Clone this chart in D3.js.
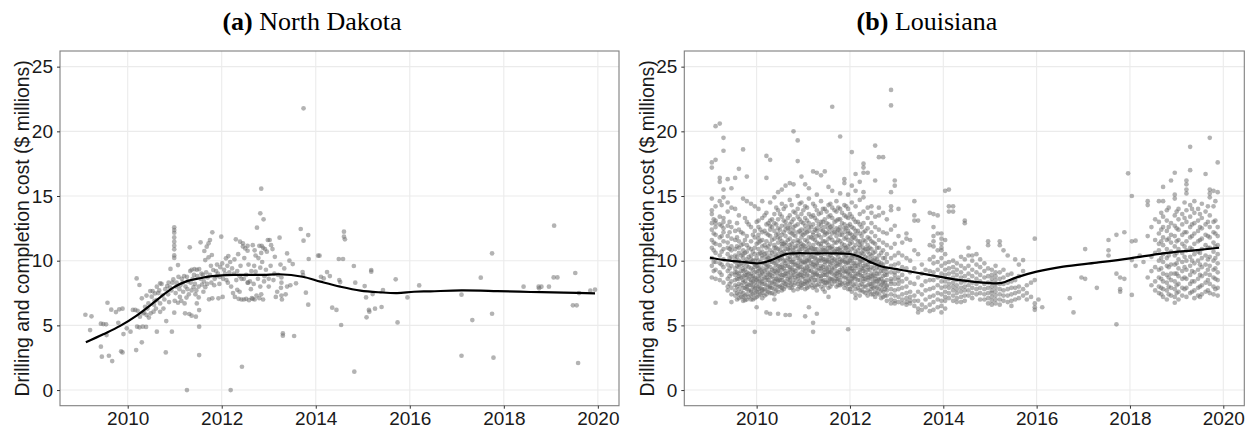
<!DOCTYPE html>
<html>
<head>
<meta charset="utf-8">
<script src="https://cdn.jsdelivr.net/npm/d3@7"></script>
<style>
  html, body { margin: 0; padding: 0; background: #fff; }
  svg { display: block; }
</style>
</head>
<body>
<svg id="chart" width="1251" height="433"></svg>
<script>
// ---------------- DATA ----------------
const panelTitles = [["(a)", " North Dakota"], ["(b)", " Louisiana"]];
const yAxisTitle = "Drilling and completion cost ($ millions)";
const yTicks = [0, 5, 10, 15, 20, 25];
const xTicks = [2010, 2012, 2014, 2016, 2018, 2020];

// North Dakota wells: [date (year), cost ($M)]
const ndWells = [
[2009.10,5.82],[2009.23,5.70],[2009.20,4.64],[2009.43,5.13],[2009.48,5.10],[2009.54,5.08],[2009.57,6.75],
[2009.65,6.21],[2009.75,6.03],[2009.82,6.24],[2009.89,6.29],[2009.43,3.35],[2009.45,2.58],[2009.60,2.65],
[2009.67,2.24],[2009.86,2.99],[2009.89,2.91],[2009.55,4.25],[2009.80,5.20],[2009.91,4.33],[2009.98,4.77],
[2010.06,4.51],[2010.11,6.19],[2010.16,6.19],[2010.21,6.13],[2010.19,8.63],[2010.25,8.12],[2010.18,3.09],
[2010.30,3.69],[2010.20,4.90],[2010.25,4.85],[2010.32,4.90],[2010.39,4.88],[2010.26,5.67],[2010.33,5.93],
[2010.40,5.80],[2010.49,5.93],[2010.55,6.06],[2010.30,7.09],[2010.37,6.44],[2010.44,6.70],[2010.51,7.22],
[2010.58,7.47],[2010.62,7.99],[2010.48,7.65],[2010.53,7.65],[2010.62,4.51],[2010.69,8.25],[2010.72,8.20],
[2010.60,6.30],[2010.69,6.05],[2010.76,6.30],[2010.69,6.70],[2010.62,6.95],[2010.82,5.33],[2010.81,2.91],
[2010.94,4.51],[2010.84,8.04],[2010.90,7.94],[2010.95,8.30],[2010.91,9.36],
[2010.99,12.58],[2010.99,12.37],[2010.99,12.16],[2010.99,11.80],[2010.99,11.47],[2010.99,11.16],[2010.99,10.88],
[2010.99,10.41],[2010.99,10.21],[2011.07,9.66],[2010.97,8.55],[2011.04,8.30],[2011.08,8.75],[2011.15,8.60],
[2011.20,8.80],[2011.26,8.75],[2010.99,5.98],[2011.00,6.90],[2011.07,6.75],[2011.14,6.90],[2011.21,6.70],
[2011.25,7.15],[2011.22,5.93],[2011.31,5.88],[2011.36,5.75],[2011.45,5.67],[2011.26,0.00],[2011.32,11.03],
[2011.33,9.20],[2011.36,9.30],[2011.42,9.35],[2011.47,9.30],[2011.52,9.35],[2011.40,7.95],[2011.46,7.70],
[2011.51,8.00],[2011.58,8.15],[2011.65,7.95],[2011.36,7.70],[2011.52,4.90],[2011.52,2.70],[2011.47,6.70],
[2011.52,6.18],[2011.51,7.16],[2011.55,11.42],[2011.63,10.75],[2011.68,11.08],[2011.72,11.34],[2011.75,11.60],
[2011.80,12.19],[2011.65,10.05],[2011.72,10.26],[2011.79,10.44],[2011.82,9.28],[2011.73,7.01],[2011.80,7.09],
[2011.93,7.09],[2011.99,11.86],[2011.89,8.80],[2011.96,8.75],[2012.03,8.60],[2012.10,8.50],[2012.01,9.79],
[2012.09,10.18],[2012.14,10.36],[2012.19,0.00],[2012.30,11.65],[2012.39,11.47],[2012.45,11.34],[2012.50,10.95],
[2012.55,10.77],[2012.43,1.80],[2012.20,8.00],[2012.24,7.50],[2012.28,7.20],[2012.36,7.05],[2012.42,7.00],
[2010.35,6.00],[2010.42,6.30],[2010.45,5.60],[2010.56,6.60],[2010.65,7.50],[2010.74,7.30],[2010.78,7.00],
[2010.86,7.40],[2010.88,6.80],[2010.93,7.70],[2011.02,7.50],[2011.10,7.80],[2011.12,8.10],[2011.17,8.30],
[2011.23,8.00],[2011.28,8.40],[2011.30,7.40],[2011.38,8.60],[2011.43,8.20],[2011.48,8.80],[2011.55,8.60],
[2011.60,8.90],[2011.62,8.40],[2011.67,9.10],[2011.70,8.70],[2011.75,8.90],[2011.78,8.30],[2011.85,8.60],
[2011.88,9.20],[2011.92,9.00],[2011.97,9.50],[2012.05,9.30],[2012.12,9.60],[2012.16,9.10],[2012.22,9.40],
[2012.26,9.00],[2012.33,9.20],[2012.38,8.80],[2012.47,8.60],[2012.52,8.90],[2012.56,8.30],[2012.33,7.75],
[2012.38,7.60],[2012.47,7.00],[2012.52,7.05],[2012.58,6.95],[2012.62,7.80],[2012.64,7.10],[2012.68,8.20],
[2012.70,10.80],[2012.72,10.40],[2012.78,10.20],[2012.84,10.60],[2012.88,11.00],[2012.92,10.90],[2012.96,10.70],
[2013.02,11.60],[2013.05,11.20],[2013.08,10.90],[2013.13,10.30],
[2013.74,21.78],[2012.84,15.57],[2012.82,13.66],[2012.89,13.20],[2012.75,12.55],[2012.45,11.10],[2012.55,11.15],
[2012.66,11.20],[2012.80,11.15],[2012.85,11.15],[2012.98,11.60],[2013.23,11.78],[2013.39,10.56],[2013.44,10.00],
[2013.51,9.74],[2013.68,12.45],[2013.74,11.55],[2013.84,11.98],[2013.85,10.13],[2014.05,10.39],[2014.08,10.39],
[2014.49,10.13],[2014.58,10.13],[2014.60,12.24],[2014.60,11.86],[2014.62,11.65],[2013.25,9.70],[2012.82,9.46],
[2012.72,9.15],[2012.42,8.60],[2012.60,8.40],[2012.55,8.30],[2012.91,8.80],[2013.00,8.60],[2013.10,8.50],
[2013.20,8.90],[2013.27,8.70],[2013.27,8.30],[2013.26,7.90],[2013.72,9.12],[2013.73,8.89],[2013.58,8.25],
[2013.79,7.53],[2013.84,6.60],[2014.11,8.76],[2014.17,8.63],[2014.24,9.12],[2014.30,8.81],[2014.50,8.50],
[2014.52,8.35],[2014.81,9.59],[2014.84,8.30],[2015.04,8.04],[2015.07,7.16],[2015.21,7.42],[2015.18,9.28],
[2015.18,9.15],[2015.43,7.73],[2015.70,8.56],[2015.95,7.16],[2016.20,8.09],[2015.74,5.23],[2014.54,5.03],
[2014.35,6.37],[2014.44,6.19],[2015.08,5.62],[2015.14,6.06],[2015.13,6.19],[2015.26,6.29],[2015.40,6.42],
[2014.82,1.42],[2013.30,4.38],[2013.30,4.20],[2013.54,4.18],[2012.80,7.10],[2012.84,7.40],[2012.88,7.00],
[2012.74,7.30],[2012.70,7.00],[2012.66,7.05],[2013.27,7.30],[2013.28,7.00],[2012.82,8.00],[2012.90,8.40],
[2013.00,8.00],[2013.15,7.20],[2013.46,8.10],[2013.39,8.00],
[2010.40,7.30],[2010.57,6.90],[2010.67,7.70],[2010.80,7.80],[2010.87,8.30],[2011.03,8.00],[2011.11,7.20],
[2011.18,7.60],[2011.27,7.80],[2011.34,8.30],[2011.41,8.90],[2011.44,7.40],[2011.57,9.00],[2011.61,7.60],
[2011.69,8.20],[2011.77,9.60],[2011.84,8.10],[2011.90,9.70],[2011.95,8.20],[2012.02,7.20],[2012.07,9.00],
[2012.13,8.30],[2012.18,9.90],[2012.27,10.10],[2012.31,8.50],[2012.35,10.50],[2012.40,9.60],[2012.48,10.20],
[2012.57,9.70],[2012.63,9.20],[2012.69,9.60],[2012.77,8.60],[2012.86,9.90],[2012.94,9.30],[2013.04,9.60],
[2013.12,9.00],[2013.18,7.60],[2013.33,9.40],[2013.36,7.40],
[2017.75,10.57],[2017.51,8.69],[2017.10,7.37],[2017.33,5.41],[2017.75,5.90],[2017.10,2.65],[2017.78,2.50],
[2018.42,7.99],[2018.74,7.99],[2018.80,7.99],[2018.96,7.99],[2018.75,7.86],[2019.06,8.71],[2019.14,8.71],
[2019.52,9.05],[2019.60,7.50],[2019.47,6.55],[2019.55,6.55],[2019.58,2.09],[2019.84,7.68],[2019.94,7.76],
[2019.07,12.71]
];

// Louisiana wells grouped by month: [date (year), [costs ($M)]]
const laWells = [
[2009.04,[17.6,17.2,13.9,13.6,12.9,12.4,11.6,11.0,10.2,9.6,8.7,14.8]],
[2009.12,[17.8,20.4,14.2,13.1,12.6,12.0,11.3,10.6,9.9,9.3,8.6,6.75,12.9]],
[2009.21,[20.6,16.1,14.6,13.4,12.8,11.8,11.2,10.4,9.8,9.1,8.5,16.4]],
[2009.29,[19.5,18.5,15.5,14.9,13.3,12.5,11.5,10.9,10.1,9.5,8.3,13.0,12.2]],
[2009.38,[16.3,14.5,13.8,12.7,11.4,11.0,10.5,9.7,9.2,8.6,8.0,7.7,11.9]],
[2009.46,[15.6,14.1,12.6,11.7,11.1,10.3,9.6,9.0,8.4,7.9,7.4,6.8,10.8]],
[2009.54,[16.4,14.0,12.3,11.6,10.9,10.4,9.9,9.4,8.9,8.5,8.1,7.7,7.3,10.1,9.1]],
[2009.62,[17.1,13.5,12.4,11.5,11.0,10.6,10.0,9.5,9.0,8.6,8.2,7.8,7.4,7.1,9.7,8.8]],
[2009.71,[18.6,14.8,12.1,11.3,10.8,10.2,9.7,9.2,8.8,8.3,7.9,7.5,7.2,6.9,10.5,9.4,8.5]],
[2009.79,[16.5,14.6,13.0,11.9,11.2,10.7,10.1,9.6,9.1,8.7,8.2,7.8,7.4,7.0,9.9,8.9,8.0]],
[2009.88,[14.4,12.6,11.5,10.9,10.4,9.9,9.4,9.0,8.5,8.1,7.7,7.3,7.0,10.1,8.8,8.3,7.6]],
[2009.96,[14.2,12.3,11.8,11.0,10.5,10.0,9.5,9.1,8.7,8.3,7.9,7.5,7.1,9.7,8.6,7.8,4.5]],
[2010.04,[14.0,13.1,12.6,12.0,11.4,10.9,10.5,10.0,9.6,9.2,8.8,8.4,8.0,7.6,7.3,11.7,9.4,8.6,7.8]],
[2010.12,[14.6,13.3,12.2,11.6,11.1,10.7,10.2,9.8,9.4,9.0,8.6,8.2,7.8,7.5,7.1,10.4,9.1,8.4,7.7]],
[2010.21,[18.1,16.4,13.7,12.8,12.1,11.5,11.0,10.6,10.1,9.7,9.3,8.9,8.5,8.1,7.7,7.4,10.3,9.5,8.7,6.0]],
[2010.29,[17.8,14.5,13.1,12.4,11.9,11.3,10.8,10.4,9.9,9.5,9.1,8.7,8.3,7.9,7.5,12.7,10.1,8.9,8.0,5.9]],
[2010.38,[14.9,13.6,12.9,12.3,11.7,11.2,10.7,10.3,9.8,9.4,9.0,8.6,8.2,7.8,7.4,11.0,10.0,9.2,8.4,7.0]],
[2010.46,[15.3,13.9,13.2,12.5,11.8,11.4,10.9,10.5,10.0,9.6,9.2,8.8,8.4,8.0,7.6,12.1,10.2,9.3,8.5,5.9]],
[2010.54,[15.5,14.4,13.4,12.7,12.0,11.5,11.1,10.6,10.2,9.7,9.3,8.9,8.5,8.1,7.7,11.3,10.4,9.5,8.7,7.9]],
[2010.62,[15.8,14.2,13.0,12.4,11.9,11.4,10.9,10.5,10.0,9.6,9.2,8.8,8.4,8.0,12.7,11.2,9.8,9.0,8.2,5.8]],
[2010.71,[16.0,14.7,13.5,12.8,12.2,11.7,11.2,10.8,10.3,9.9,9.5,9.1,8.7,8.3,7.9,12.5,11.0,10.1,9.3,8.5,5.8]],
[2010.79,[20.0,15.9,13.8,13.2,12.6,12.0,11.5,11.0,10.6,10.1,9.7,9.3,8.9,8.5,8.1,7.7,12.3,10.8,9.9,9.1]],
[2010.88,[19.3,17.7,15.0,14.0,13.4,12.8,12.2,11.6,11.1,10.7,10.2,9.8,9.4,9.0,8.6,8.2,7.8,11.4,10.4,9.6,8.8]],
[2010.96,[16.5,14.5,13.6,13.0,12.4,11.8,11.3,10.9,10.4,10.0,9.5,9.1,8.7,8.3,7.9,12.1,11.1,9.8,8.9,8.1]],
[2011.04,[15.9,14.2,13.3,12.7,12.1,11.6,11.1,10.6,10.2,9.8,9.4,9.0,8.6,8.2,7.8,12.4,10.9,9.9,9.2,8.4,5.7]],
[2011.12,[15.6,14.8,13.6,12.9,12.3,11.8,11.3,10.8,10.4,10.0,9.6,9.2,8.8,8.4,8.0,12.6,11.0,10.1,9.3,8.5,6.4]],
[2011.21,[16.9,14.4,13.5,12.8,12.2,11.7,11.2,10.7,10.3,9.9,9.5,9.1,8.7,8.3,7.9,12.0,10.9,9.7,8.9,5.2,4.5]],
[2011.29,[16.8,15.1,13.9,13.1,12.5,11.9,11.4,10.9,10.5,10.1,9.7,9.3,8.9,8.5,8.1,7.7,12.3,10.6,9.8,9.0,5.9]],
[2011.38,[16.6,14.6,13.7,13.0,12.4,11.8,11.3,10.8,10.4,10.0,9.6,9.2,8.8,8.4,8.0,12.7,11.1,10.2,9.4,8.6]],
[2011.46,[16.9,14.0,13.2,12.6,12.0,11.5,11.0,10.5,10.1,9.7,9.3,8.9,8.5,8.1,7.6,12.2,10.8,9.9,9.1,8.3]],
[2011.54,[15.7,14.3,13.4,12.8,12.2,11.7,11.2,10.7,10.3,9.9,9.5,9.1,8.7,8.3,7.9,12.5,11.0,10.0,9.2,8.4,7.2]],
[2011.62,[21.9,15.4,14.1,13.3,12.7,12.1,11.6,11.1,10.6,10.2,9.8,9.4,9.0,8.6,8.2,12.4,10.9,10.0,9.3,8.5]],
[2011.71,[14.6,13.8,13.1,12.5,11.9,11.4,10.9,10.5,10.0,9.6,9.2,8.8,8.4,8.0,12.2,10.7,9.8,9.0,8.6]],
[2011.79,[19.6,15.2,14.0,13.2,12.6,12.0,11.5,11.0,10.6,10.1,9.7,9.3,8.9,8.5,8.1,12.3,10.8,9.9,9.1,8.3]],
[2011.88,[16.3,16.0,14.3,13.5,12.8,12.2,11.7,11.2,10.7,10.3,9.9,9.5,9.1,8.7,8.3,7.9,12.5,11.0,10.0,9.2]],
[2011.96,[15.1,14.0,13.3,12.7,12.1,11.6,11.1,10.6,10.2,9.8,9.4,9.0,8.6,8.2,7.8,12.3,10.8,9.9,9.1,8.4,4.7]],
[2012.04,[18.4,15.8,14.5,13.4,12.6,12.0,11.4,10.9,10.4,10.0,9.6,9.2,8.8,8.4,8.0,7.6,11.7,10.2,9.4,8.6]],
[2012.12,[16.7,15.4,14.2,13.0,12.3,11.7,11.2,10.7,10.2,9.8,9.4,9.0,8.6,8.2,7.8,7.4,12.0,10.5,9.6,8.8,7.1]],
[2012.21,[16.1,14.7,13.6,12.8,12.1,11.5,11.0,10.5,10.1,9.7,9.3,8.9,8.5,8.1,7.7,7.3,11.2,9.9,9.1]],
[2012.29,[17.5,17.2,16.8,15.3,14.9,13.8,12.9,12.2,11.6,11.0,10.5,10.0,9.6,9.2,8.8,8.4,8.0,7.6,10.8,9.4,8.6]],
[2012.38,[16.8,14.1,13.3,12.5,11.8,11.2,10.7,10.2,9.7,9.3,8.9,8.5,8.1,7.7,7.3,10.9,9.5,8.7]],
[2012.46,[14.2,13.7,12.9,12.2,11.5,10.9,10.4,9.9,9.5,9.0,8.6,8.2,7.8,7.4,10.1,8.8,8.0]],
[2012.54,[18.9,16.2,13.4,12.6,11.9,11.3,10.7,10.2,9.7,9.2,8.8,8.4,8.0,7.6,7.2,9.9,8.6]],
[2012.62,[18.0,14.1,13.5,12.4,11.6,11.0,10.4,9.9,9.4,9.0,8.6,8.2,7.8,7.4,9.7,8.5]],
[2012.71,[18.0,13.7,12.2,11.4,10.8,10.2,9.7,9.2,8.8,8.4,8.0,7.6,7.2,9.5,8.3]],
[2012.79,[13.2,12.1,11.2,10.5,9.9,9.4,8.9,8.5,8.1,7.7,7.3,6.9,9.1,8.0]],
[2012.88,[23.2,22.0,15.3,14.2,13.9,12.4,11.0,10.2,9.6,9.1,8.6,8.2,7.8,7.4,7.0,6.7,8.4]],
[2012.96,[16.2,15.8,12.7,11.3,10.4,9.7,9.1,8.6,8.2,7.7,7.3,6.9,6.7,8.9]],
[2013.04,[14.0,11.9,10.6,9.8,9.2,8.7,8.2,7.8,7.2,6.8,8.5]],
[2013.12,[11.4,10.4,9.5,8.9,8.4,7.9,7.4,7.0,6.7]],
[2013.21,[12.1,11.7,10.2,9.4,8.6,8.0,7.5,7.1,6.8,6.6]],
[2013.29,[11.6,10.0,9.1,8.3,7.6,7.2,6.9,6.7]],
[2013.38,[14.6,13.5,13.1,10.8,9.4,8.2,7.3,6.9,6.5]],
[2013.46,[13.1,10.5,8.7,7.6,6.9,6.3,6.0]],
[2013.54,[9.7,9.0,8.1,7.4,6.6,6.2]],
[2013.62,[9.3,8.4,7.7,7.0,6.4]],
[2013.71,[13.7,11.2,10.1,9.2,8.5,7.8,7.2,6.6,6.1]],
[2013.79,[13.6,12.6,11.9,11.5,11.1,10.3,9.8,9.1,8.5,7.9,7.3,6.8,6.2]],
[2013.88,[13.5,12.1,10.8,9.9,9.3,8.7,8.1,7.5,7.0,6.4]],
[2013.96,[11.7,11.3,10.8,10.2,9.6,9.0,8.4,7.9,7.4,6.9,6.5,6.0,12.1,11.0]],
[2014.04,[15.4,11.6,10.5,9.8,9.3,8.9,8.4,8.0,7.6,7.2,6.9,6.3]],
[2014.12,[15.5,14.2,13.8,9.9,9.4,9.0,8.6,8.2,7.9,7.5,7.1]],
[2014.21,[14.2,13.8,10.0,9.5,9.1,8.7,8.3,8.0,7.7,7.3,6.9]],
[2014.29,[9.8,9.3,8.9,8.5,8.1,7.8,7.5,7.1,6.8]],
[2014.38,[10.3,9.6,9.1,8.7,8.3,7.9,7.6,7.2,6.8]],
[2014.46,[13.1,12.9,10.1,9.4,8.8,8.4,8.0,7.7,7.3,6.9]],
[2014.54,[11.0,10.4,9.6,9.0,8.5,8.1,7.7,7.3]],
[2014.62,[10.4,10.0,9.3,8.8,8.3,7.9,7.5,7.1]],
[2014.71,[10.5,9.7,9.1,8.6,8.2,7.8,7.4]],
[2014.79,[10.1,9.5,8.9,8.4,7.9,7.5,7.0]],
[2014.88,[9.8,9.2,8.7,8.2,7.8,7.4,7.0]],
[2014.96,[11.5,11.2,9.4,8.8,8.3,7.9,7.5,7.1,6.7]],
[2015.04,[9.3,8.9,8.6,8.3,8.0,7.7,7.5,7.2,6.9,6.6]],
[2015.12,[9.6,9.1,8.8,8.5,8.2,7.9,7.6,7.3,7.0,6.7]],
[2015.21,[11.5,11.2,9.1,8.6,8.2,7.8,7.4,7.0,6.6]],
[2015.29,[10.8,9.3,8.7,8.2,7.7,7.3,6.9]],
[2015.38,[10.4,8.9,8.3,7.8,7.3,6.8]],
[2015.46,[9.0,8.4,7.9,7.4,6.9,6.5]],
[2015.54,[10.1,8.5,7.9,7.5,7.0]],
[2015.62,[9.7,8.8,8.0,7.6,7.1]],
[2015.71,[10.05,9.2,7.8,7.3]],
[2015.79,[8.1,7.5,7.0]],
[2015.88,[8.3,7.2]],
[2015.96,[11.7,8.5,6.7,6.4,6.2]],
[2016.04,[7.0]],
[2016.12,[6.4]],
[2016.71,[7.1]],
[2016.79,[6.0]],
[2016.96,[8.7]],
[2017.04,[10.9,8.6]],
[2017.29,[7.9]],
[2017.54,[11.6,10.8,10.4]],
[2017.71,[12.0,9.0,5.08]],
[2017.79,[8.7,7.8,7.6]],
[2017.88,[12.2,8.6]],
[2017.96,[16.75]],
[2018.04,[15.0,11.5,10.05,7.35]],
[2018.12,[11.55,9.6]],
[2018.21,[10.4]],
[2018.29,[9.9]],
[2018.38,[14.6,14.3,11.9,8.7]],
[2018.46,[12.6,10.3,9.2,8.1]],
[2018.54,[13.2,11.6,10.6,9.5,8.4,7.7]],
[2018.62,[14.6,13.0,12.1,11.3,10.8,10.0,9.3,8.7,8.0,7.5]],
[2018.71,[15.7,14.6,13.4,12.6,11.8,11.2,10.5,9.9,9.0,8.4,7.8,7.2]],
[2018.79,[13.9,13.1,12.3,11.6,10.9,10.2,9.6,8.9,8.3,7.7,7.0]],
[2018.88,[16.2,12.9,12.0,11.4,10.7,9.7,9.0,8.5,7.9,7.3]],
[2018.96,[16.8,15.1,14.8,13.5,12.7,11.9,11.1,10.4,9.7,9.0,8.4,7.8,7.2,6.75]],
[2019.04,[14.0,13.2,12.4,11.6,10.9,10.1,9.4,8.8,8.2,7.6,7.0]],
[2019.12,[13.6,12.8,12.0,11.3,10.6,9.9,9.2,8.6,7.9,7.3]],
[2019.21,[16.2,15.9,15.5,15.2,13.9,13.0,12.2,11.5,10.8,10.0,9.3,8.6,7.9,7.2]],
[2019.29,[18.8,17.0,14.3,13.4,12.6,11.8,11.0,10.3,9.6,8.9,8.2,7.5]],
[2019.38,[14.6,13.7,12.9,12.1,11.3,10.5,9.8,9.1,8.4,7.7,7.1]],
[2019.46,[14.0,13.1,12.3,11.5,10.7,10.0,9.3,8.6,7.9,7.3]],
[2019.54,[14.4,13.3,12.5,11.7,10.9,10.2,9.5,8.8,8.1,7.4]],
[2019.62,[16.7,13.8,12.8,12.0,11.2,10.4,9.7,9.0,8.3,7.6]],
[2019.71,[19.5,15.5,15.2,14.9,13.5,12.6,11.8,11.0,10.3,9.6,8.9,8.2,7.5]],
[2019.79,[15.4,14.2,13.0,12.2,11.4,10.7,10.0,9.3,8.7,8.0,7.4]],
[2019.88,[17.6,15.3,12.6,11.9,11.2,10.5,9.8,9.1,8.5,7.9,7.3]]
];

// Louisiana wells spudded in the second half of each month: [date (year), [costs ($M)]]
const laWellsMidMonth = [
[2009.08,[13.2,12.1,11.4,10.8,9.9,9.2]],
[2009.25,[14.3,12.7,11.9,10.7,9.7,8.9]],
[2009.42,[13.0,12.2,10.9,10.2,9.4,8.8,8.2]],
[2009.58,[12.9,11.8,11.1,10.3,9.6,9.1,8.6,8.0,7.5,7.0]],
[2009.67,[12.2,11.2,10.4,9.8,9.2,8.7,8.1,7.6,7.2]],
[2009.75,[13.3,11.6,10.6,9.9,9.3,8.9,8.4,7.9,7.3,6.95]],
[2009.83,[12.8,11.0,10.3,9.5,9.0,8.6,8.1,7.7,7.2]],
[2009.92,[12.0,10.7,10.0,9.3,8.8,8.4,8.0,7.4,7.0]],
[2010.00,[13.0,11.3,10.2,9.6,9.1,8.5,8.1,7.6,7.2,6.4]],
[2010.08,[12.4,11.5,10.6,9.9,9.3,8.9,8.3,7.9,7.4]],
[2010.17,[13.5,12.3,11.2,10.5,9.8,9.2,8.7,8.2,7.8,7.3]],
[2010.25,[12.9,12.0,11.1,10.2,9.6,9.0,8.5,8.0,7.6]],
[2010.33,[13.2,12.6,11.6,10.6,9.9,9.3,8.8,8.3,7.9,7.5]],
[2010.42,[14.1,12.8,12.0,11.0,10.4,9.7,9.1,8.6,8.1,7.7]],
[2010.50,[13.6,12.4,11.7,10.8,10.1,9.5,9.0,8.5,8.0]],
[2010.58,[14.0,13.1,12.2,11.3,10.7,10.0,9.4,8.9,8.3,7.8]],
[2010.67,[13.3,12.5,11.6,10.9,10.2,9.6,9.0,8.6,8.1]],
[2010.75,[14.3,13.0,12.1,11.3,10.5,9.9,9.4,8.8,8.2,7.9]],
[2010.83,[13.7,12.7,11.9,11.1,10.4,9.7,9.2,8.7,8.3]],
[2010.92,[14.4,13.2,12.3,11.5,10.8,10.1,9.5,8.9,8.4,8.0]],
[2011.00,[13.9,12.9,12.0,11.2,10.5,9.9,9.3,8.8,8.2]],
[2011.08,[14.1,13.1,12.2,11.5,10.7,10.0,9.5,8.9,8.3,7.9]],
[2011.17,[13.4,12.6,11.8,11.0,10.3,9.8,9.2,8.6,8.1]],
[2011.25,[14.2,13.3,12.4,11.6,10.9,10.2,9.6,9.0,8.5,8.0]],
[2011.33,[13.6,12.8,12.0,11.3,10.6,10.0,9.4,8.8,8.2]],
[2011.42,[14.0,13.0,12.3,11.5,10.8,10.1,9.5,8.9,8.4,7.8]],
[2011.50,[13.8,12.9,12.1,11.4,10.7,10.0,9.4,8.9,8.3]],
[2011.58,[14.4,13.5,12.6,11.8,11.0,10.4,9.7,9.1,8.6,8.0]],
[2011.67,[13.9,13.0,12.2,11.4,10.7,10.1,9.5,8.9,8.4]],
[2011.75,[14.1,13.2,12.4,11.6,10.9,10.3,9.7,9.1,8.6,8.1]],
[2011.83,[13.7,12.9,12.0,11.3,10.6,10.0,9.4,8.8,8.2]],
[2011.92,[14.2,13.4,12.5,11.8,11.0,10.4,9.8,9.2,8.7,8.1]],
[2012.00,[13.6,12.8,12.1,11.3,10.6,10.0,9.4,8.9,8.3,7.8]],
[2012.08,[13.2,12.5,11.8,11.0,10.4,9.8,9.2,8.7,8.1]],
[2012.17,[13.0,12.3,11.5,10.8,10.2,9.6,9.0,8.5,7.9]],
[2012.25,[12.6,11.9,11.3,10.6,10.0,9.4,8.8,8.2,7.7]],
[2012.33,[12.3,11.5,10.9,10.3,9.7,9.1,8.6,8.0,7.5]],
[2012.42,[11.7,11.0,10.5,9.9,9.3,8.7,8.2,7.6]],
[2012.50,[11.4,10.6,10.0,9.4,8.9,8.3,7.9,7.4]],
[2012.58,[11.0,10.1,9.5,9.0,8.4,7.9,7.5]],
[2012.67,[10.6,9.8,9.2,8.6,8.1,7.7,7.1]],
[2012.75,[10.2,9.4,8.9,8.3,7.8,7.3]],
[2018.67,[13.7,12.4,11.5,10.2,9.4,8.6,7.9,7.4]],
[2018.83,[14.1,12.6,11.7,10.4,9.5,8.7,8.0,7.4]],
[2019.00,[13.8,12.5,11.5,10.6,9.8,9.0,8.1,7.5]],
[2019.17,[14.5,13.3,12.2,11.1,10.3,9.5,8.7,7.8]],
[2019.33,[14.0,12.8,11.9,10.9,10.0,9.2,8.4,7.6]],
[2019.50,[13.6,12.6,11.6,10.6,9.7,8.9,8.0,7.2]],
[2019.67,[14.2,13.0,11.9,11.0,10.1,9.3,8.5,7.7]],
[2019.83,[14.6,13.1,12.1,11.1,10.2,9.4,8.6,7.8]]
];

// Smoothed trend lines: [date, cost]
const ndTrend = [
[2009.11,3.69],[2009.48,4.31],[2009.84,4.96],[2010.19,5.76],[2010.48,6.55],[2010.69,7.17],[2010.97,7.92],
[2011.26,8.42],[2011.54,8.64],[2011.80,8.80],[2012.00,8.87],[2012.25,8.90],[2012.60,8.90],[2012.90,8.90],
[2013.22,8.95],[2013.72,8.76],[2014.10,8.38],[2014.52,7.99],[2014.95,7.68],[2015.38,7.55],[2015.73,7.50],
[2016.09,7.60],[2016.44,7.63],[2017.10,7.70],[2017.86,7.65],[2018.57,7.58],[2019.28,7.53],[2019.94,7.47]
];
const laTrend = [
[2009.00,10.23],[2009.32,10.05],[2009.68,9.92],[2010.04,9.80],[2010.32,10.05],[2010.61,10.49],[2010.82,10.57],
[2011.18,10.57],[2011.60,10.57],[2012.00,10.52],[2012.21,10.30],[2012.46,9.85],[2012.68,9.55],[2013.07,9.30],
[2013.64,8.94],[2014.00,8.71],[2014.36,8.50],[2014.71,8.35],[2015.07,8.25],[2015.25,8.28],[2015.57,8.71],
[2016.00,9.15],[2016.57,9.54],[2017.29,9.85],[2018.00,10.18],[2018.71,10.57],[2019.43,10.82],[2019.91,11.00]
];

// ---------------- DRAWING ----------------
const svg = d3.select("#chart");
svg.append("rect").attr("width", 1251).attr("height", 433).attr("fill", "#fff");

const flattenColumns = cols => cols.flatMap(c => c[1].map(v => ({ t: c[0], v: v })));
const yDomain = [-1.21, 26.21];
const panels = [
  { left: 60, right: 619, xDomain: [2008.56, 2020.45], title: panelTitles[0], titleX: 312, axisTitleX: 29,
    points: ndWells.map(d => ({ t: d[0], v: d[1] })), trend: ndTrend },
  { left: 684.3, right: 1244.3, xDomain: [2008.45, 2020.45], title: panelTitles[1], titleX: 927, axisTitleX: 654,
    points: flattenColumns(laWells).concat(flattenColumns(laWellsMidMonth)), trend: laTrend }
];
const plotTop = 51, plotBottom = 405.7;

panels.forEach(p => {
  const x = d3.scaleLinear().domain(p.xDomain).range([p.left, p.right]);
  const y = d3.scaleLinear().domain(yDomain).range([plotBottom, plotTop]);
  const g = svg.append("g");

  // grid
  g.append("g").selectAll("line").data(yTicks).join("line")
    .attr("x1", p.left).attr("x2", p.right)
    .attr("y1", d => y(d)).attr("y2", d => y(d))
    .attr("stroke", "#ebebeb").attr("stroke-width", 1.1);
  g.append("g").selectAll("line").data(xTicks).join("line")
    .attr("y1", plotTop).attr("y2", plotBottom)
    .attr("x1", d => x(d)).attr("x2", d => x(d))
    .attr("stroke", "#ebebeb").attr("stroke-width", 1.1);

  // points
  g.append("g").selectAll("circle").data(p.points).join("circle")
    .attr("cx", d => x(d.t)).attr("cy", d => y(d.v)).attr("r", 2.35)
    .attr("fill", "#6e6e6e").attr("fill-opacity", 0.52);

  // trend
  g.append("path").datum(p.trend)
    .attr("d", d3.line().x(d => x(d[0])).y(d => y(d[1])).curve(d3.curveCatmullRom.alpha(0.5)))
    .attr("fill", "none").attr("stroke", "#000").attr("stroke-width", 2.2);

  // border
  g.append("rect").attr("x", p.left).attr("y", plotTop)
    .attr("width", p.right - p.left).attr("height", plotBottom - plotTop)
    .attr("fill", "none").attr("stroke", "#7f7f7f").attr("stroke-width", 1.1);

  // axes
  const xAxis = d3.axisBottom(x).tickValues(xTicks).tickFormat(d3.format("d")).tickSize(3).tickPadding(3);
  const gx = g.append("g").attr("transform", `translate(0,${plotBottom})`).call(xAxis);
  const yAxis = d3.axisLeft(y).tickValues(yTicks).tickSize(3).tickPadding(4);
  const gy = g.append("g").attr("transform", `translate(${p.left},0)`).call(yAxis);
  [gx, gy].forEach(a => {
    a.select(".domain").remove();
    a.selectAll(".tick line").attr("stroke", "#333");
    a.selectAll(".tick text").attr("fill", "#1a1a1a")
      .style("font-family", "'Liberation Sans', Arial, sans-serif").style("font-size", "19px");
  });

  // axis title
  g.append("text")
    .attr("transform", `translate(${p.axisTitleX},${(plotTop + plotBottom) / 2}) rotate(-90)`)
    .attr("text-anchor", "middle")
    .style("font-family", "'Liberation Sans', Arial, sans-serif").style("font-size", "19.4px")
    .attr("fill", "#1a1a1a")
    .text(yAxisTitle);

  // panel title
  const t = svg.append("text").attr("x", p.titleX).attr("y", 30).attr("text-anchor", "middle")
    .style("font-family", "'Liberation Serif', 'DejaVu Serif', serif").style("font-size", "26px").attr("fill", "#000");
  t.append("tspan").attr("font-weight", "bold").text(p.title[0]);
  t.append("tspan").text(p.title[1]);
});
</script>
</body>
</html>
